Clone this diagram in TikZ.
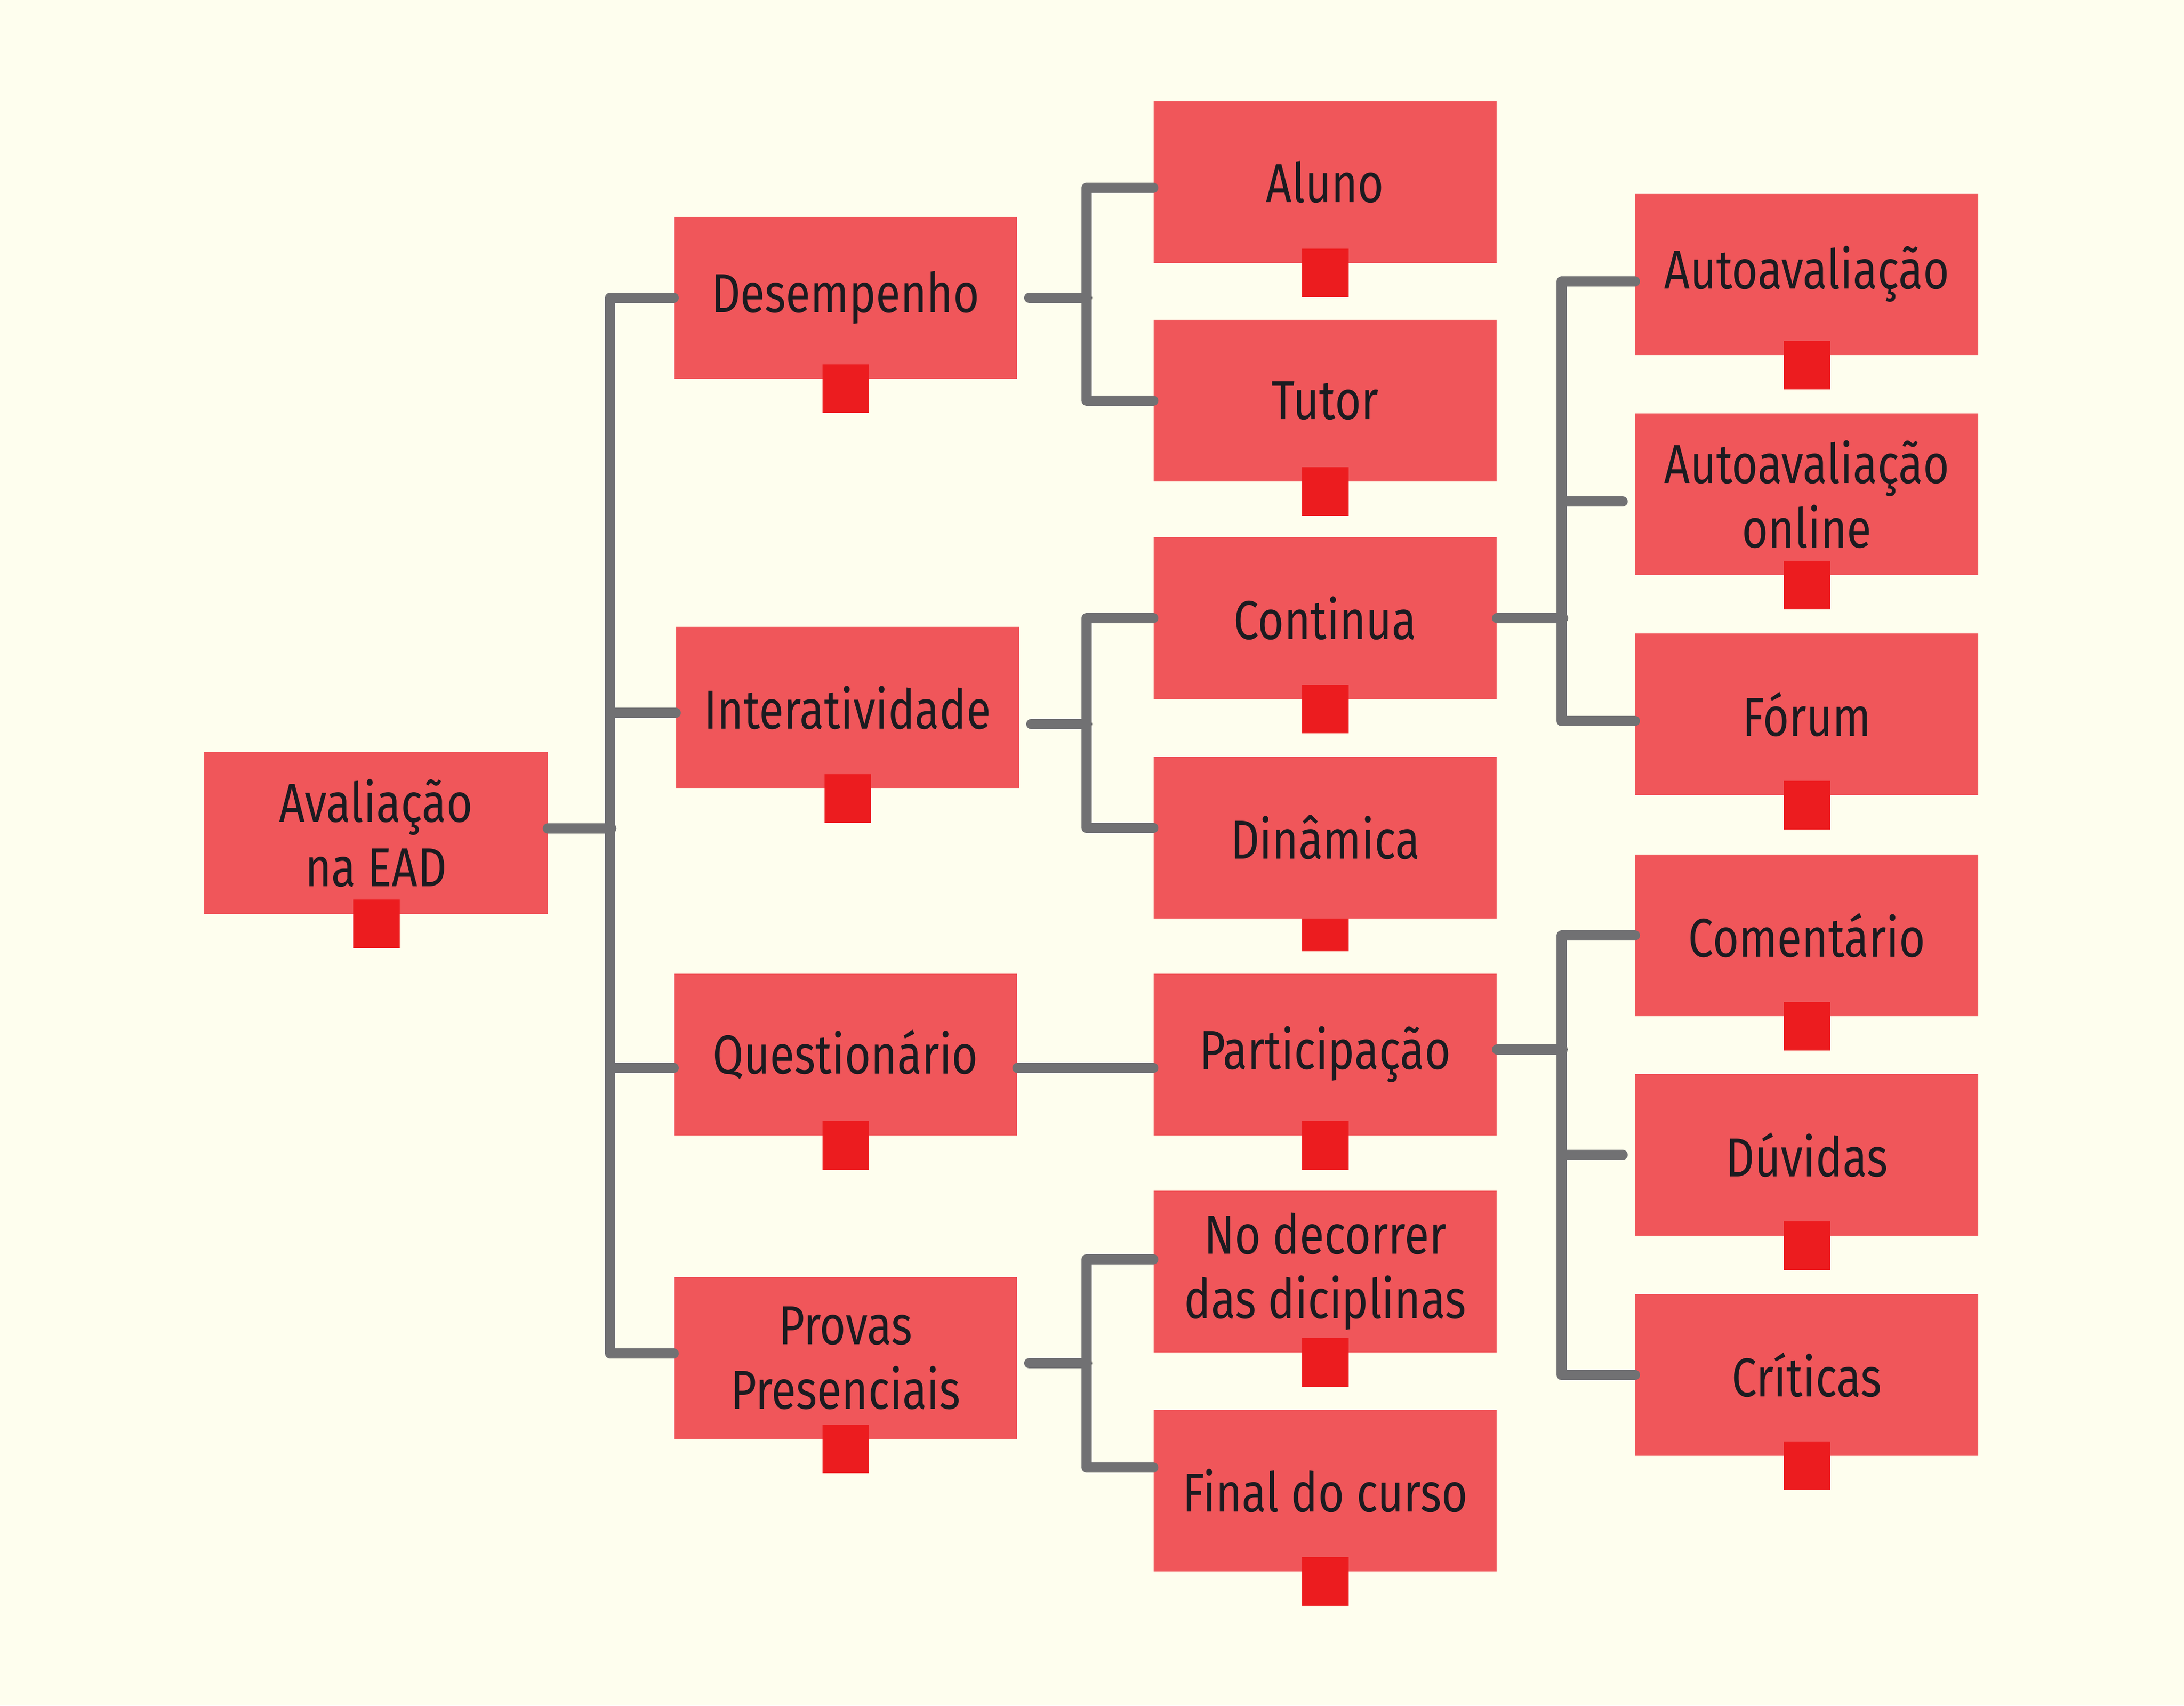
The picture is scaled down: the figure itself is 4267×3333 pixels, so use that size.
\documentclass[tikz,border=0pt]{standalone}
\usepackage{fontspec}
\setmainfont{Fira Sans}[FakeStretch=0.82]
\usetikzlibrary{calc}

\definecolor{paper}{HTML}{FEFEEE}
\definecolor{boxred}{HTML}{F0565A}
\definecolor{tabred}{HTML}{EC1C1F}
\definecolor{linkgray}{HTML}{717173}
\definecolor{inkblack}{HTML}{1C1B20}

\tikzset{
	itembox/.style={fill=boxred, minimum width=6.7cm, minimum height=3.16cm, inner sep=0pt,
		align=center, text=inkblack, font=\fontsize{30.5}{35.9}\selectfont},
	tabsq/.style={fill=tabred},
	linkline/.style={draw=linkgray, line width=0.2cm, line cap=round, line join=round}
}

\begin{document}
\begin{tikzpicture}[x=0.01cm, y=-0.01cm]
			\fill[paper] (0,0) rectangle (4267,3333);
			\useasboundingbox (0,0) rectangle (4267,3333);
			% the one tab that sits under its box
			\fill[tabsq] (2544,1764) rectangle ++(91,95);
			% boxes
			\node[itembox] (root) at (734.5,1628) {Avaliação\\na EAD};
			\node[itembox] (desemp) at (1652,582) {Desempenho};
			\node[itembox] (inter) at (1656,1383) {Interatividade};
			\node[itembox] (quest) at (1652,2061) {Questionário};
			\node[itembox] (provas) at (1652,2654) {Provas\\Presenciais};
			\node[itembox] (aluno) at (2589,356) {Aluno};
			\node[itembox] (tutor) at (2589,783) {Tutor};
			\node[itembox] (continua) at (2589,1208) {Continua};
			\node[itembox] (dinamica) at (2589,1637) {Dinâmica};
			\node[itembox] (particip) at (2589,2061) {Participação};
			\node[itembox] (decorrer) at (2589,2485) {No decorrer\\das diciplinas};
			\node[itembox] (final) at (2589,2913) {Final do curso};
			\node[itembox] (auto) at (3530,536) {Autoavaliação};
			\node[itembox] (online) at (3530,966) {Autoavaliação\\online};
			\node[itembox] (forum) at (3530,1396) {Fórum};
			\node[itembox] (coment) at (3530,1828) {Comentário};
			\node[itembox] (duvidas) at (3530,2257) {Dúvidas};
			\node[itembox] (criticas) at (3530,2687) {Críticas};
			% tabs
			\foreach \n in {root,desemp,inter,quest,provas,aluno,tutor,continua,particip,decorrer,final,auto,online,forum,coment,duvidas,criticas}
				\fill[tabsq] ($(\n.south)+(-45,-29)$) rectangle ++(91,95);
			% root bus
			\draw[linkline] ($(root.east)+(0,-9)$) -- ++(124,0);
			\draw[linkline] (desemp.west) -- ++(-124,0) |- ($(provas.west)+(0,-9)$);
			\draw[linkline] ($(inter.west)+(0,10)$) -- ++(-128,0);
			\draw[linkline] ($(quest.west)+(0,26)$) -- ++(-124,0);
			% second level
			\draw[linkline, shorten <=0.23cm] (desemp.east) -- ++(136,0);
			\draw[linkline] ($(aluno.west)+(0,11)$) -- ++(-130,0) |- (tutor.west);
			\draw[linkline, shorten <=0.23cm] ($(inter.east)+(0,32)$) -- ++(132,0);
			\draw[linkline] (continua.west) -- ++(-130,0) |- ($(dinamica.west)+(0,-19)$);
			\draw[linkline] ($(quest.east)+(0,26)$) -- ($(particip.west)+(0,26)$);
			\draw[linkline, shorten <=0.23cm] ($(provas.east)+(0,10)$) -- ++(136,0);
			\draw[linkline] ($(decorrer.west)+(0,-24)$) -- ++(-130,0) |- ($(final.west)+(0,-45)$);
			% third level
			\draw[linkline] (continua.east) -- ++(129,0);
			\draw[linkline] ($(auto.west)+(0,14)$) -- ++(-143,0) |- ($(forum.west)+(0,13)$);
			\draw[linkline] ($(online.west)+(-24,14)$) -- ++(-119,0);
			\draw[linkline] ($(particip.east)+(0,-10)$) -- ++(128,0);
			\draw[linkline] (coment.west) -- ++(-143,0) |- (criticas.west);
			\draw[linkline] ($(duvidas.west)+(-24,0)$) -- ++(-119,0);
\end{tikzpicture}
\end{document}
